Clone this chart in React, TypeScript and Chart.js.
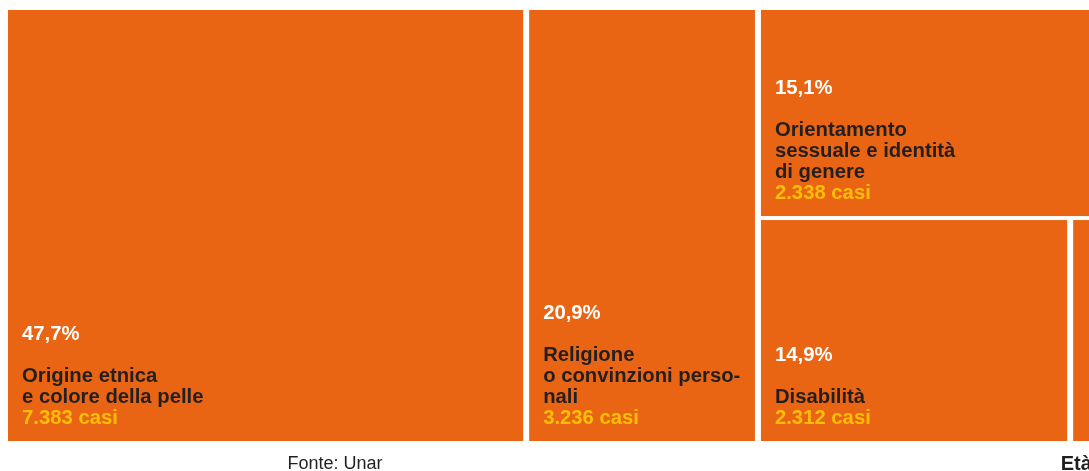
import React, { useEffect, useRef } from "react";
import { Chart, registerables } from "chart.js";

Chart.register(...registerables);

// ---- data ----
const categories = [
  "Origine etnica\ne colore della pelle",
  "Religione\no convinzioni perso-\nnali",
  "Orientamento\nsessuale e identità\ndi genere",
  "Disabilità",
  "Età",
];
const cases = [7383, 3236, 2338, 2312, 195];
const percentLabels = ["47,7%", "20,9%", "15,1%", "14,9%", ""];
const caseLabels = ["7.383 casi", "3.236 casi", "2.338 casi", "2.312 casi", ""];
const sourceNote = "Fonte: Unar";

// ---- styles ----
const TILE_COLOR = "#E96513";
const PCT_COLOR = "#FFFFFF";
const NAME_COLOR = "#231F20";
const CASES_COLOR = "#FDBE0A";
const GAP_X = 6;
const GAP_Y = 4;
const FONT = '"Liberation Sans", Arial, Helvetica, sans-serif';

type Row = { items: number[]; vertical: boolean };
type Rect = { x: number; y: number; w: number; h: number };

function worst(areas: number[], side: number) {
  const s = areas.reduce((a, b) => a + b, 0);
  let m = 0;
  for (const a of areas) {
    m = Math.max(m, (side * side * a) / (s * s), (s * s) / (side * side * a));
  }
  return m;
}

function squarifyRows(values: number[], w: number, h: number): Row[] {
  const rows: Row[] = [];
  let i = 0;
  let rw = w;
  let rh = h;
  let remaining = values.reduce((a, b) => a + b, 0);
  while (i < values.length) {
    const scale = (rw * rh) / remaining;
    const side = Math.min(rw, rh);
    const row = [i];
    let best = worst([values[i] * scale], side);
    let j = i + 1;
    while (j < values.length) {
      const cand = [...row.map((k) => values[k] * scale), values[j] * scale];
      const wv = worst(cand, side);
      if (wv <= best) {
        row.push(j);
        best = wv;
        j++;
      } else break;
    }
    const s = row.reduce((a, k) => a + values[k], 0);
    const vertical = rw >= rh;
    rows.push({ items: row, vertical });
    if (vertical) rw -= (s * scale) / rh;
    else rh -= (s * scale) / rw;
    remaining -= s;
    i = j;
  }
  return rows;
}

function layoutTreemap(values: number[], W: number, H: number, gx: number, gy: number): Rect[] {
  const rows = squarifyRows(values, W, H);
  const out: Rect[] = new Array(values.length);
  const rowSum = (r: Row) => r.items.reduce((a, k) => a + values[k], 0);
  const rec = (start: number, x: number, y: number, w: number, h: number) => {
    if (start >= rows.length) return;
    const vert = rows[start].vertical;
    let end = start;
    while (end < rows.length && rows[end].vertical === vert) end++;
    const hasRemainder = end < rows.length;
    const segs = end - start + (hasRemainder ? 1 : 0);
    let total = 0;
    for (let r = start; r < rows.length; r++) total += rowSum(rows[r]);
    const L = vert ? w : h;
    const gap = vert ? gx : gy;
    const avail = L - (segs - 1) * gap;
    let pos = 0;
    for (let r = start; r < end; r++) {
      const rs = rowSum(rows[r]);
      const len = (avail * rs) / total;
      const L2 = vert ? h : w;
      const gap2 = vert ? gy : gx;
      const avail2 = L2 - (rows[r].items.length - 1) * gap2;
      let pos2 = 0;
      for (const k of rows[r].items) {
        const len2 = (avail2 * values[k]) / rs;
        out[k] = vert
          ? { x: x + pos, y: y + pos2, w: len, h: len2 }
          : { x: x + pos2, y: y + pos, w: len2, h: len };
        pos2 += len2 + gap2;
      }
      pos += len + gap;
    }
    if (hasRemainder) {
      rec(end, vert ? x + pos : x, vert ? y : y + pos, vert ? w - pos : w, vert ? h : h - pos);
    }
  };
  rec(0, 0, 0, W, H);
  return out;
}

const treemapPlugin = {
  id: "treemapTiles",
  afterDatasetsDraw(chart: any) {
    const { ctx, chartArea, scales } = chart;
    const xs = scales.x;
    const ys = scales.y;
    const W = chartArea.right - chartArea.left;
    const H = chartArea.bottom - chartArea.top;
    const rects = layoutTreemap(cases, W, H, GAP_X, GAP_Y);
    ctx.save();
    rects.forEach((r, i) => {
      const x0 = xs.getPixelForValue(r.x / W);
      const x1 = xs.getPixelForValue((r.x + r.w) / W);
      const y0 = ys.getPixelForValue(r.y / H);
      const y1 = ys.getPixelForValue((r.y + r.h) / H);
      ctx.fillStyle = TILE_COLOR;
      ctx.fillRect(x0, y0, x1 - x0, y1 - y0);

      const lines = categories[i].split("\n");
      if (x1 - x0 < 80) {
        // too small: label below the tile
        ctx.font = `bold 20px ${FONT}`;
        ctx.fillStyle = NAME_COLOR;
        ctx.textAlign = "left";
        ctx.textBaseline = "alphabetic";
        ctx.fillText(lines.join(" "), x0 - 12.5, 470);
        return;
      }
      const lh = 21;
      const tx = x0 + 14;
      const lastY = y1 - 22.5;
      ctx.textAlign = "left";
      ctx.textBaseline = "middle";
      ctx.font = `bold 20.3px ${FONT}`;
      ctx.fillStyle = CASES_COLOR;
      ctx.fillText(caseLabels[i], tx, lastY);
      ctx.fillStyle = NAME_COLOR;
      lines.forEach((ln, k) => {
        ctx.fillText(ln, tx, lastY - lh * (lines.length - k));
      });
      const firstY = lastY - lh * lines.length;
      ctx.fillStyle = PCT_COLOR;
      ctx.fillText(percentLabels[i], tx, firstY - 42);
    });
    // source note
    ctx.font = `18px ${FONT}`;
    ctx.fillStyle = NAME_COLOR;
    ctx.textAlign = "center";
    ctx.textBaseline = "alphabetic";
    ctx.fillText(sourceNote, 335, 469);
    ctx.restore();
  },
};

export default function App() {
  const canvasRef = useRef<HTMLCanvasElement | null>(null);

  useEffect(() => {
    if (!canvasRef.current) return;
    const chart = new Chart(canvasRef.current, {
      type: "scatter",
      data: { datasets: [{ data: [] }] },
      options: {
        animation: false,
        responsive: true,
        maintainAspectRatio: false,
        layout: { padding: { left: 8, top: 10, right: 21, bottom: 30 } },
        scales: {
          x: { type: "linear", min: 0, max: 1, display: false },
          y: { type: "linear", min: 0, max: 1, reverse: true, display: false },
        },
        plugins: {
          legend: { display: false },
          tooltip: { enabled: false },
        },
      },
      plugins: [treemapPlugin],
    });
    return () => chart.destroy();
  }, []);

  return (
    <div
      style={{
        position: "fixed",
        left: 0,
        top: 0,
        width: 1089,
        height: 471,
        overflow: "hidden",
        background: "#ffffff",
      }}
    >
      <div style={{ position: "relative", width: 1120, height: 471 }}>
        <canvas ref={canvasRef} />
      </div>
    </div>
  );
}
